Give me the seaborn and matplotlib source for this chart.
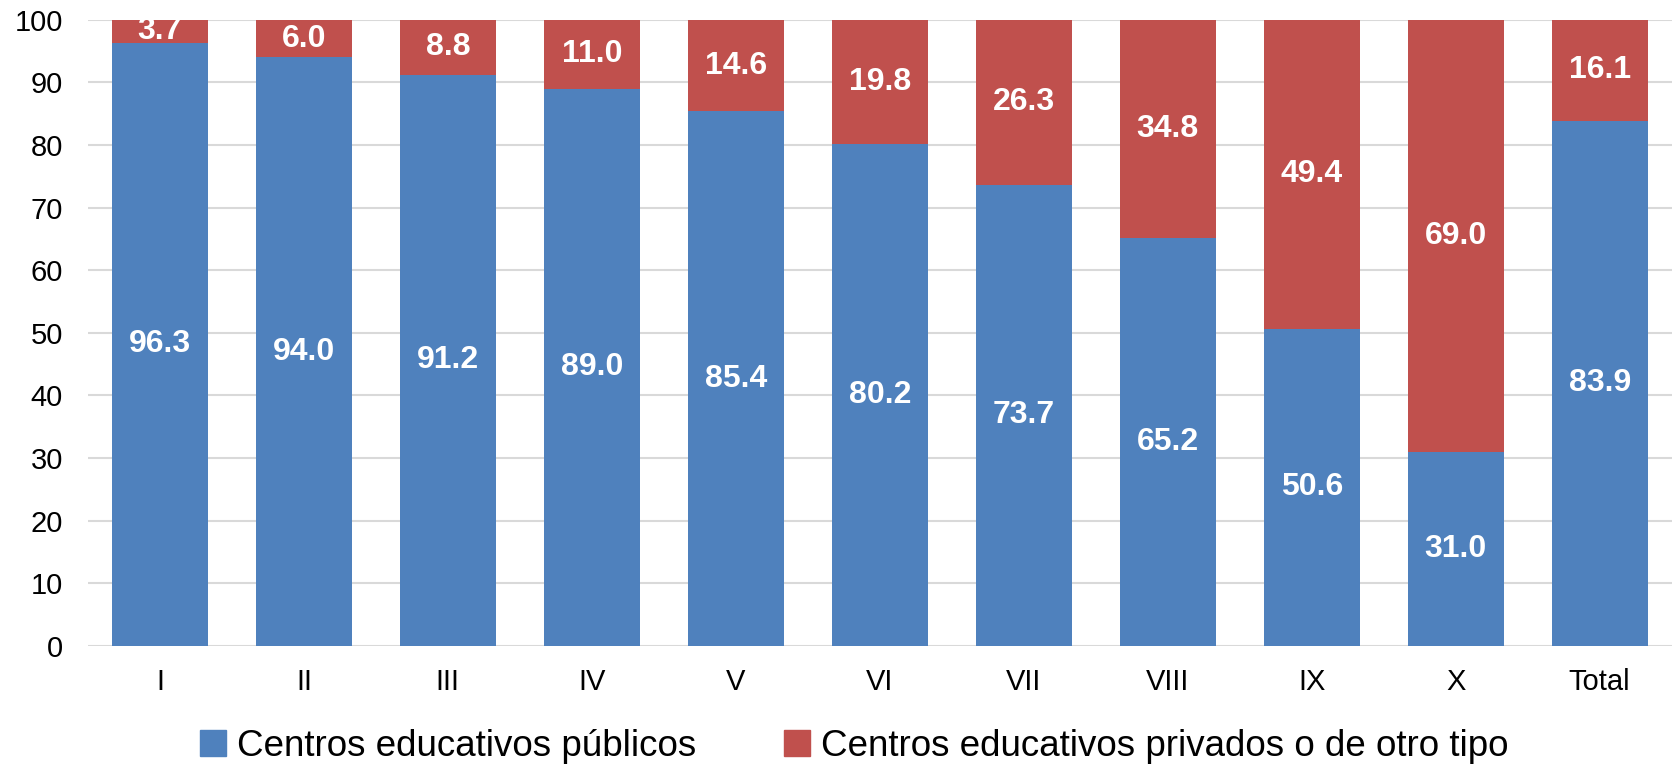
import numpy as np
import pandas as pd
import matplotlib
matplotlib.use('Agg')
import matplotlib.pyplot as plt
import seaborn as sns
from matplotlib.patches import Patch

categorias = ['I', 'II', 'III', 'IV', 'V', 'VI', 'VII', 'VIII', 'IX', 'X', 'Total']
publicos = [96.3, 94.0, 91.2, 89.0, 85.4, 80.2, 73.7, 65.2, 50.6, 31.0, 83.9]
privados = [3.7, 6.0, 8.8, 11.0, 14.6, 19.8, 26.3, 34.8, 49.4, 69.0, 16.1]
series = ['Centros educativos públicos', 'Centros educativos privados o de otro tipo']

azul = '#4F81BD'
rojo = '#C0504D'

sns.set_theme(style='white')
plt.rcParams['font.family'] = ['Liberation Sans', 'DejaVu Sans']
plt.rcParams['text.color'] = 'black'

df = pd.DataFrame({'cat': categorias, 'pub': publicos, 'priv': privados})
df['total'] = df['pub'] + df['priv']

fig, ax = plt.subplots(figsize=(16.75, 7.66), dpi=100)
fig.subplots_adjust(left=0.0525, right=0.998, bottom=0.157, top=0.974)

# apilado: primero el total en rojo, encima la parte publica en azul
sns.barplot(data=df, x='cat', y='total', color=rojo, saturation=1, width=0.667,
            linewidth=0, ax=ax, zorder=2)
sns.barplot(data=df, x='cat', y='pub', color=azul, saturation=1, width=0.667,
            linewidth=0, ax=ax, zorder=3)

for i, (p, q) in enumerate(zip(publicos, privados)):
    ax.text(i, p / 2, f'{p:.1f}', ha='center', va='center', color='white',
            fontsize=23, fontweight='bold', zorder=5)
    ax.text(i, p + q / 2, f'{q:.1f}', ha='center', va='center', color='white',
            fontsize=23, fontweight='bold', zorder=5)

ax.set_ylim(0, 100)
ax.set_yticks(np.arange(0, 101, 10))
ax.set_xlim(-0.5, len(categorias) - 0.5)
ax.yaxis.grid(True, color='#d9d9d9', linewidth=1.5, zorder=0)
ax.set_axisbelow(True)
for s in ax.spines.values():
    s.set_visible(False)
ax.tick_params(axis='both', length=0, labelsize=21, colors='black')
ax.tick_params(axis='x', pad=16)
ax.tick_params(axis='y', pad=18)
ax.set_xlabel('')
ax.set_ylabel('')

handles = [Patch(color=azul), Patch(color=rojo)]
leg = fig.legend(handles, series, loc='lower center', bbox_to_anchor=(0.51, -0.04), ncol=2,
                 frameon=False, fontsize=26.5, handlelength=0.7, handleheight=0.7,
                 handletextpad=0.3, columnspacing=2.4)
for t in leg.get_texts():
    t.set_color('black')

fig.savefig('out.png', dpi=100)
